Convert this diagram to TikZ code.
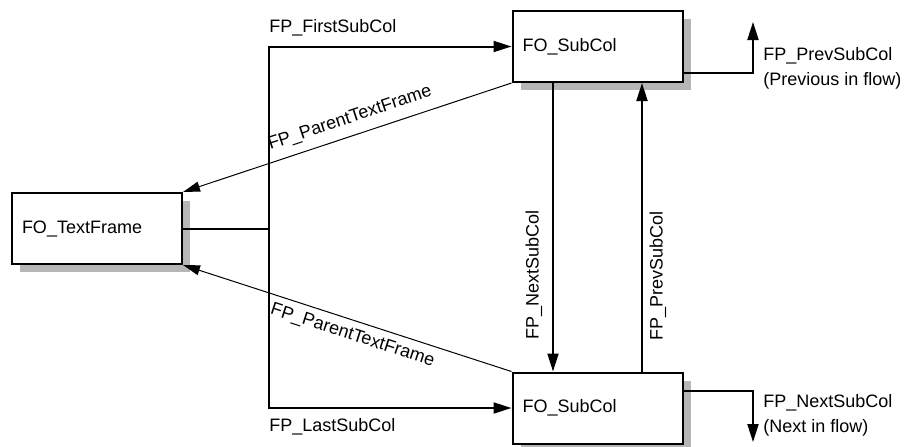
\documentclass[tikz,border=0pt]{standalone}
\usepackage{fontspec}
\setmainfont{Liberation Sans}
\usetikzlibrary{arrows.meta,shadows,positioning}
\definecolor{shadowgray}{RGB}{182,182,182}
\tikzset{
  fobox/.style={draw, line width=1pt, fill=white, minimum width=85pt,
    minimum height=35.5pt, text width=75pt, inner xsep=5pt, align=left,
    drop shadow={shadow xshift=4pt, shadow yshift=-4pt, fill=shadowgray, opacity=1}},
  link/.style={line width=1pt},
  arr/.style={line width=1pt, -{Triangle[length=9pt,width=5.5pt]}},
  back/.style={line width=0.5pt, {Triangle[length=8.5pt,width=5pt]}-},
  sidetxt/.style={anchor=north west, align=left, inner sep=0pt}
}
\begin{document}
\begin{tikzpicture}[x=0.5pt, y=-0.5pt, font=\fontsize{9}{12.5}\selectfont]
\useasboundingbox (0,0) rectangle (906,446);
% frames
\node[fobox] (tf) at (97,228.5) {FO\_TextFrame};
\node[fobox] (sc1) at (597.5,46.5) {FO\_SubCol};
\node[fobox] (sc2) at (597.5,408) {FO\_SubCol};
% first and last sub column
\coordinate (tr) at ([xshift=43pt]tf.east);
\coordinate (c1) at (tr |- sc1.west);
\coordinate (c2) at (tr |- sc2.west);
\draw[link] (tf.east) -- (tr);
\draw[arr] (tr) |- (sc1.west);
\draw[arr] (tr) |- (sc2.west);
\node[anchor=base west, inner sep=0pt] (firstlbl) at ([yshift=7pt]c1) {FP\_FirstSubCol};
\node[anchor=base west, inner sep=0pt] (lastlbl) at ([yshift=-11.5pt]c2) {FP\_LastSubCol};
% parent
\draw[back] (tf.north east) -- node[sloped, above=1pt, pos=0.525] (ptop) {FP\_ParentTextFrame} (sc1.south west);
\draw[back] (tf.south east) -- node[sloped, below, pos=0.53] (pbot) {FP\_ParentTextFrame} (sc2.north west);
% next / prev
\draw[arr] ([xshift=-22.25pt]sc1.south) -- coordinate[pos=0.665] (nmid) ([xshift=-22.25pt]sc2.north);
\draw[arr] ([xshift=22.25pt]sc2.north) -- coordinate[pos=0.33] (pmid) ([xshift=22.25pt]sc1.south);
\node[rotate=90] (nextlbl) at ([xshift=-9.5pt]nmid) {FP\_NextSubCol};
\node[rotate=90] (prevlbl) at ([xshift=8pt]pmid) {FP\_PrevSubCol};
% in flow
\coordinate (prevout) at (753,22);
\coordinate (nextout) at (753,442);
\draw[arr] ([yshift=5pt]sc1.south east) -| (prevout);
\draw[arr] ([yshift=-9.5pt]sc2.north east) -| (nextout);
\node[sidetxt] (prevtxt) at (763,47) {FP\_PrevSubCol\\(Previous in flow)};
\node[sidetxt] (nexttxt) at (763,394) {FP\_NextSubCol\\(Next in flow)};
\end{tikzpicture}
\end{document}
